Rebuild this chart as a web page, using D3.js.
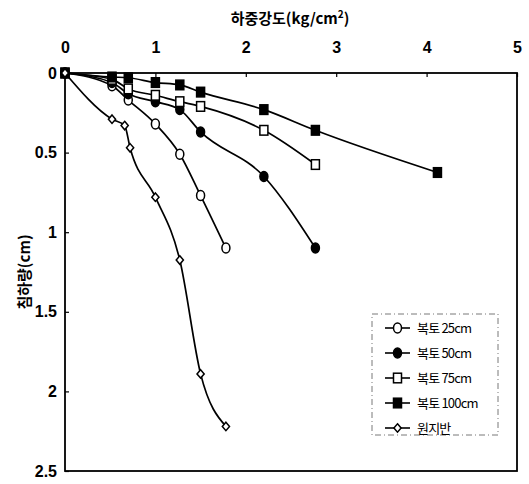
<!DOCTYPE html>
<html><head><meta charset="utf-8">
<script src="https://cdn.jsdelivr.net/npm/d3@7"></script>
<style>body{margin:0;background:#fff}svg{display:block}</style>
</head><body>
<script>
const xTicks = [0,1,2,3,4,5];
const yTicks = [0,0.5,1,1.5,2,2.5];
const yTickLabels = ["0","0.5","1","1.5","2","2.5"];
const seriesNames = ["복토 25cm","복토 50cm","복토 75cm","복토 100cm","원지반"];
const markerTypes = ["circleOpen","circleFilled","squareOpen","squareFilled","diamondOpen"];
const x25 = [0,0.52,0.7,1.0,1.27,1.5,1.78];
const y25 = [0,0.08,0.17,0.32,0.51,0.77,1.10];
const x50 = [0,0.52,0.7,1.0,1.27,1.5,2.2,2.77];
const y50 = [0,0.06,0.13,0.18,0.23,0.37,0.65,1.10];
const x75 = [0,0.52,0.7,1.0,1.27,1.5,2.2,2.77];
const y75 = [0,0.04,0.10,0.14,0.18,0.21,0.36,0.575];
const x100 = [0,0.52,0.7,1.0,1.27,1.5,2.2,2.77,4.12];
const y100 = [0,0.025,0.03,0.06,0.075,0.12,0.23,0.36,0.625];
const xG = [0,0.52,0.66,0.72,1.0,1.27,1.5,1.78];
const yG = [0,0.29,0.33,0.47,0.78,1.175,1.89,2.22];
const seriesX = [x25,x50,x75,x100,xG];
const seriesY = [y25,y50,y75,y100,yG];

const W=529,H=484;
const L=65,R=517,T=73,B=471;
const svg=d3.select("body").append("svg").attr("width",W).attr("height",H);
svg.append("rect").attr("width",W).attr("height",H).attr("fill","#fff");
const x=d3.scaleLinear().domain([0,5]).range([L,R]);
const y=d3.scaleLinear().domain([0,2.5]).range([T,B]);
const font="'Liberation Sans',Arial,sans-serif";

// frame
svg.append("rect").attr("x",L).attr("y",T).attr("width",R-L).attr("height",B-T)
  .attr("fill","none").attr("stroke","#000").attr("stroke-width",1.8);

// top axis
const xa=svg.append("g").attr("transform",`translate(0,${T})`)
  .call(d3.axisTop(x).tickValues(xTicks).tickSizeInner(-4).tickSizeOuter(0).tickPadding(20).tickFormat(d3.format("d")));
xa.select(".domain").remove();
xa.selectAll("line").attr("stroke","#000").attr("stroke-width",1.2);
xa.selectAll("text").attr("font-family",font).attr("font-size",16).attr("font-weight","bold").attr("fill","#000");

// left axis
const ya=svg.append("g").attr("transform",`translate(${L},0)`)
  .call(d3.axisLeft(y).tickValues(yTicks).tickSizeInner(-4).tickSizeOuter(0).tickPadding(8).tickFormat((d,i)=>yTickLabels[i]));
ya.select(".domain").remove();
ya.selectAll("line").attr("stroke","#000").attr("stroke-width",1.2);
ya.selectAll("text").attr("font-family",font).attr("font-size",16).attr("font-weight","bold").attr("fill","#000");

// titles
svg.append("text").attr("x",290).attr("y",24).attr("text-anchor","middle")
  .attr("font-family","'Noto Sans CJK KR',sans-serif").attr("font-size",15).attr("font-weight","bold")
  .html('하중강도(kg/cm<tspan dy="-6" font-size="10">2</tspan><tspan dy="6">)</tspan>');
svg.append("text").attr("transform","translate(30,272) rotate(-90)").attr("text-anchor","middle")
  .attr("font-family","'Noto Sans CJK KR',sans-serif").attr("font-size",15).attr("font-weight","bold")
  .text("침하량(cm)");

function drawMarker(g,type,cx,cy){
  if(type==="circleOpen"||type==="circleFilled"){
    g.append("ellipse").attr("cx",cx).attr("cy",cy).attr("rx",4).attr("ry",5)
      .attr("fill",type==="circleFilled"?"#000":"#fff").attr("stroke","#000").attr("stroke-width",1.5);
  } else if(type==="squareOpen"||type==="squareFilled"){
    g.append("rect").attr("x",cx-4).attr("y",cy-4.8).attr("width",8).attr("height",9.6)
      .attr("fill",type==="squareFilled"?"#000":"#fff").attr("stroke","#000").attr("stroke-width",1.5);
  } else {
    g.append("path").attr("d",`M${cx},${cy-4.2}L${cx+3.6},${cy}L${cx},${cy+4.2}L${cx-3.6},${cy}Z`)
      .attr("fill","#fff").attr("stroke","#000").attr("stroke-width",1.5);
  }
}

const line=d3.line().x(d=>x(d[0])).y(d=>y(d[1])).curve(d3.curveMonotoneX);
seriesX.forEach((xs,i)=>{
  const pts=xs.map((v,j)=>[v,seriesY[i][j]]);
  const g=svg.append("g");
  g.append("path").attr("d",line(pts)).attr("fill","none").attr("stroke","#000").attr("stroke-width",1.7);
  pts.forEach(p=>drawMarker(g,markerTypes[i],x(p[0]),y(p[1])));
});

// legend
const lg=svg.append("g");
lg.append("rect").attr("x",372).attr("y",314).attr("width",126).attr("height",121)
  .attr("fill","#fff").attr("stroke","#555").attr("stroke-width",0.8).attr("stroke-dasharray","6,3,1,3");
seriesNames.forEach((n,i)=>{
  const cy=328+i*25;
  lg.append("line").attr("x1",385).attr("x2",410).attr("y1",cy).attr("y2",cy).attr("stroke","#000").attr("stroke-width",1.6);
  drawMarker(lg,markerTypes[i],397.5,cy);
  lg.append("text").attr("x",417).attr("y",cy+5).attr("font-family","'Noto Sans CJK KR',sans-serif")
    .attr("font-size",13).attr("letter-spacing",-0.8).text(n);
});
</script>
</body></html>
